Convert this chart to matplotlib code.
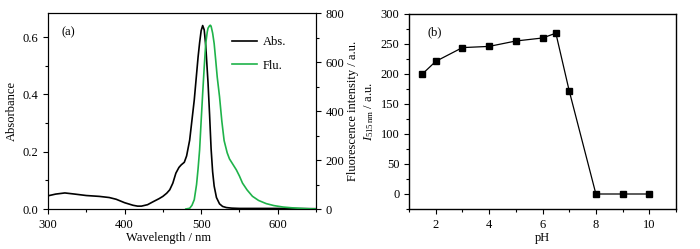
import matplotlib
matplotlib.use("Agg")
import matplotlib.pyplot as plt
from matplotlib.ticker import MultipleLocator

plt.rcParams['font.family'] = ['Liberation Serif', 'DejaVu Serif']
plt.rcParams['font.size'] = 9
plt.rcParams['mathtext.fontset'] = 'custom'
plt.rcParams['mathtext.rm'] = 'Liberation Serif'
plt.rcParams['mathtext.it'] = 'Liberation Serif:italic'

# Panel (a): absorption spectrum
abs_wl = [300, 310, 322, 335, 350, 367, 380, 389, 400, 411, 417, 422, 430, 437, 445, 450, 455,
          459, 463, 467, 471, 474, 478, 481, 485, 488, 491, 494, 496, 498, 500, 502, 504,
          506, 509, 511, 513, 515, 517, 520, 524, 528, 533, 540, 550, 600, 650]
abs_val = [0.046, 0.052, 0.056, 0.052, 0.047, 0.044, 0.040, 0.034, 0.022, 0.013, 0.010, 0.010,
           0.015, 0.025, 0.036, 0.044, 0.055, 0.067, 0.09, 0.125, 0.145, 0.154, 0.163, 0.185,
           0.24, 0.31, 0.38, 0.47, 0.53, 0.58, 0.622, 0.64, 0.625, 0.57, 0.44, 0.33, 0.21,
           0.13, 0.08, 0.04, 0.018, 0.009, 0.005, 0.003, 0.002, 0.002, 0.001]
# Panel (a): fluorescence spectrum
flu_wl = [480, 485, 488, 491, 494, 496, 498, 500, 502, 504, 506, 508, 509, 511, 512, 513,
          515, 517, 519, 521, 524, 527, 530, 534, 537, 541, 546, 550, 554, 560, 567, 575,
          585, 595, 607, 618, 628, 640, 650]
flu_val = [0, 3, 15, 38, 100, 165, 242, 360, 473, 580, 677, 725, 740, 750, 752, 748, 720,
           677, 610, 540, 460, 360, 280, 230, 205, 185, 160, 135, 106, 78, 52, 35, 22, 14,
           8, 5, 3, 1, 0]

# Panel (b): pH dependence
ph = [1.5, 2, 3, 4, 5, 6, 6.5, 7, 8, 9, 10]
intensity = [200, 221, 244, 246, 255, 260, 268, 172, 0, 0, 0]

green = '#1fb34a'

fig = plt.figure(figsize=(7, 2.49), dpi=100)
W, H = 700, 249
def rect(l, t, r, b):
    return [l / W, 1 - b / H, (r - l) / W, (b - t) / H]

ax1 = fig.add_axes(rect(48, 13.5, 316, 209))
ax1r = ax1.twinx()

ax1.plot(abs_wl, abs_val, color='black', lw=1.2, label='Abs.')
ax1r.plot(flu_wl, flu_val, color=green, lw=1.2, label='Flu.')
ax1.set_xlim(300, 650)
ax1.set_ylim(0, 0.682)
ax1r.set_ylim(0, 800)
ax1.xaxis.set_major_locator(MultipleLocator(100))
ax1.xaxis.set_minor_locator(MultipleLocator(50))
ax1.yaxis.set_major_locator(MultipleLocator(0.2))
ax1.yaxis.set_minor_locator(MultipleLocator(0.1))
ax1r.yaxis.set_major_locator(MultipleLocator(200))
ax1r.yaxis.set_minor_locator(MultipleLocator(100))
ax1.yaxis.set_major_formatter(matplotlib.ticker.FormatStrFormatter('%.1f'))
for a in (ax1, ax1r):
    a.tick_params(direction='out', which='major', length=3.5, width=0.8, labelsize=9)
    a.tick_params(direction='out', which='minor', length=2, width=0.8)
ax1.tick_params(top=False, which='both')
ax1.set_xlabel('Wavelength / nm', fontsize=9, labelpad=1)
ax1.xaxis.label.set_x(0.45)
ax1.set_ylabel('Absorbance', fontsize=9, labelpad=3)
ax1r.set_ylabel('Fluorescence intensity / a.u.', fontsize=9, labelpad=2)
ax1.text(0.05, 0.89, '(a)', transform=ax1.transAxes, fontsize=9)
h1, l1 = ax1.get_legend_handles_labels()
h2, l2 = ax1r.get_legend_handles_labels()
ax1.legend(h1 + h2, l1 + l2, loc='upper right', frameon=False, fontsize=9,
           handlelength=2.0, handletextpad=0.4, labelspacing=0.9,
           bbox_to_anchor=(0.93, 0.94))

# Panel (b)
ax2 = fig.add_axes(rect(409, 14, 676, 209))
ax2.plot(ph, intensity, color='black', lw=0.9, marker='s', ms=4.5, mfc='black')
ax2.set_xlim(1, 11)
ax2.set_ylim(-25, 300)
ax2.xaxis.set_major_locator(MultipleLocator(2))
ax2.xaxis.set_minor_locator(MultipleLocator(1))
ax2.yaxis.set_major_locator(MultipleLocator(50))
ax2.yaxis.set_minor_locator(MultipleLocator(25))
ax2.tick_params(direction='out', which='major', length=3.5, width=0.8, labelsize=9)
ax2.tick_params(direction='out', which='minor', length=2, width=0.8)
for s in ax2.spines.values():
    s.set_linewidth(1.0)
ax2.set_xlabel('pH', fontsize=9, labelpad=1)
ax2.set_ylabel(r'$I_{\mathrm{515\,nm}}$ / a.u.', fontsize=9, labelpad=3)
ax2.text(0.07, 0.89, '(b)', transform=ax2.transAxes, fontsize=9)

fig.savefig('out.png', dpi=100)
